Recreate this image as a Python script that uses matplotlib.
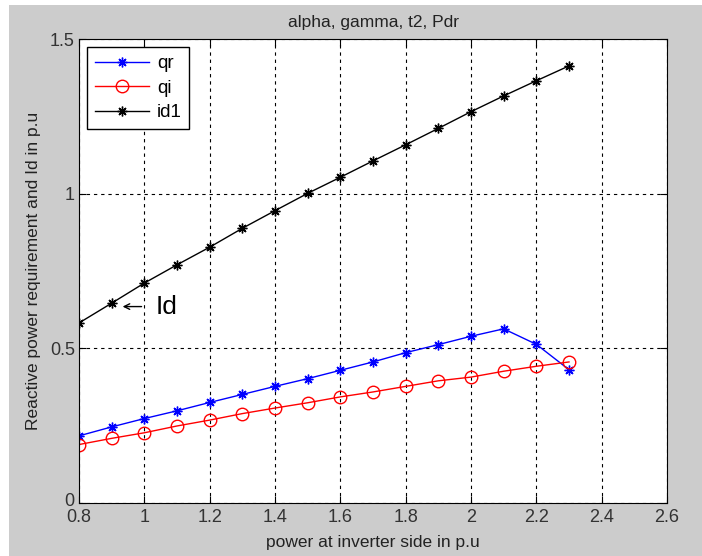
import matplotlib
matplotlib.use("Agg")
from matplotlib import pyplot as plt
from matplotlib.patches import Rectangle
from matplotlib.transforms import ScaledTranslation

plt.rcParams['font.family'] = ['Liberation Sans', 'DejaVu Sans']

# data
power = [0.8, 0.9, 1.0, 1.1, 1.2, 1.3, 1.4, 1.5, 1.6, 1.7, 1.8, 1.9, 2.0, 2.1, 2.2, 2.3]
qr = [0.217, 0.246, 0.273, 0.298, 0.325, 0.351, 0.377, 0.402, 0.429, 0.456,
      0.486, 0.512, 0.539, 0.563, 0.513, 0.431]
qi = [0.189, 0.209, 0.227, 0.249, 0.268, 0.289, 0.307, 0.324, 0.343, 0.359,
      0.377, 0.395, 0.407, 0.426, 0.442, 0.456]
id1 = [0.582, 0.646, 0.711, 0.770, 0.827, 0.888, 0.945, 1.001, 1.053, 1.106,
       1.158, 1.211, 1.265, 1.316, 1.365, 1.413]

xticks = [0.8, 1, 1.2, 1.4, 1.6, 1.8, 2, 2.2, 2.4, 2.6]
xtick_labels = ['0.8', '1', '1.2', '1.4', '1.6', '1.8', '2', '2.2', '2.4', '2.6']
yticks = [0, 0.5, 1, 1.5]
ytick_labels = ['0', '0.5', '1', '1.5']

fig = plt.figure(figsize=(7.02, 5.56), dpi=100, facecolor='white')
fig.patches.append(Rectangle((9 / 702, 0), 1, 1 - 5 / 556, transform=fig.transFigure,
                             facecolor='#cccccc', edgecolor='none', zorder=-10))
ax = fig.add_axes([79 / 702, 1 - 503 / 556, (667 - 79) / 702, (503 - 39) / 556])

aster = (8, 2, 0)
ax.plot(power, qr, color='blue', marker=aster, markersize=7, linewidth=1,
        markeredgewidth=1, label='qr')
ax.plot(power, qi, color='red', marker='o', markersize=9, markerfacecolor='none',
        linewidth=1, markeredgewidth=1, label='qi')
ax.plot(power, id1, color='black', marker=aster, markersize=7, linewidth=1,
        markeredgewidth=1, label='id1')

ax.annotate('', xy=(0.925, 0.635), xytext=(1.0, 0.635),
            arrowprops=dict(arrowstyle='->', color='black', lw=1))
ax.text(1.035, 0.635, 'Id', fontsize=19, va='center', ha='left')

ax.set_xlim(0.8, 2.6)
ax.set_ylim(0, 1.5)
ax.set_xticks(xticks)
ax.set_xticklabels(xtick_labels)
ax.set_yticks(yticks)
ax.set_yticklabels(ytick_labels)
ax.tick_params(direction='in', top=True, right=True, labelsize=13, length=5,
               color='black', labelcolor='#333333')
ax.tick_params(axis='x', pad=4)
ax.tick_params(axis='y', pad=3)
ax.grid(True, color='black', linestyle=(0, (3, 3.5)), linewidth=0.8)

# the "0" label sits just above "0.8" like in the original
zero_lbl = ax.get_yticklabels()[0]
zero_lbl.set_transform(zero_lbl.get_transform() + ScaledTranslation(0, 4 / 100, fig.dpi_scale_trans))

ax.set_title('alpha, gamma, t2, Pdr', fontsize=12.5, pad=9, color='#222222')
ax.set_xlabel('power at inverter side in p.u', fontsize=12.5, labelpad=7, color='#222222')
ax.set_ylabel('Reactive power requirement and Id in p.u', fontsize=12.5, labelpad=6,
              color='#222222')

leg = ax.legend(loc='upper left', numpoints=1, fancybox=False, framealpha=1,
                edgecolor='black', fontsize=13.5, handlelength=2.9,
                labelspacing=0.4, borderaxespad=0.45, handletextpad=0.4)
leg.get_frame().set_linewidth(1)

fig.savefig('out.png', dpi=100, facecolor=fig.get_facecolor())
